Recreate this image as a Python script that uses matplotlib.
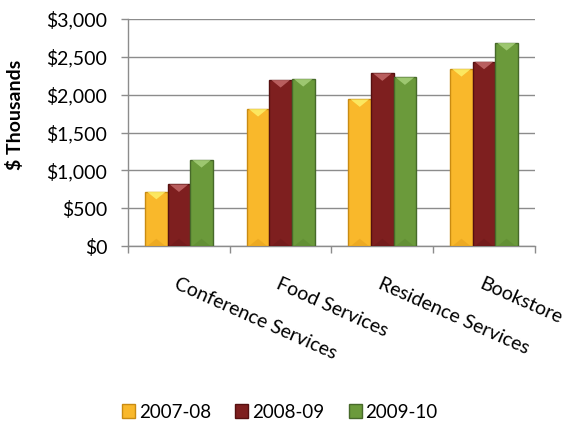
import matplotlib
matplotlib.use('Agg')
import matplotlib.pyplot as plt
from matplotlib.patches import Polygon, Patch
from matplotlib.ticker import FuncFormatter, MultipleLocator, FixedLocator
import numpy as np

#__________________DATA

categories = ['Conference Services', 'Food Services', 'Residence Services', 'Bookstore']
series = ['2007-08', '2008-09', '2009-10']
v_0708 = [718, 1811, 1939, 2339]
v_0809 = [815, 2194, 2282, 2436]
v_0910 = [1137, 2207, 2229, 2683]

colors = ['#F9B82B', '#7E1F1F', '#6B9A3B']
edges = ['#C98B12', '#561010', '#47692A']
tops = ['#FDF06A', '#C46A6A', '#A7D07A']
bottoms = ['#E6A21E', '#6E1A1A', '#5E8A32']

plt.rcParams['font.family'] = ['Lato', 'DejaVu Sans']

fig = plt.figure(figsize=(5.77, 4.23), dpi=100)
ax = fig.add_axes([0.222, 0.418, 0.705, 0.537])

x = np.arange(len(categories))
w = 0.222
ax.set_xlim(-0.5, len(categories) - 0.5)
ax.set_ylim(0, 3000)

# pixel -> data conversion for bevel triangles
ph = fig.get_figheight() * fig.dpi * 0.537
tri_h = 7.5 * 3000 / ph

for k, vals in enumerate([v_0708, v_0809, v_0910]):
    xs = x + (k - 1) * w
    bars = ax.bar(xs, vals, width=w, color=colors[k], edgecolor=edges[k],
                  linewidth=1.0, zorder=3, label=series[k])
    for b in bars:
        x0 = b.get_x(); x1 = x0 + b.get_width(); top = b.get_height()
        xc = x0 + b.get_width() / 2
        ax.add_patch(Polygon([(x0 + .02, top), (x1 - .02, top), (xc, top - tri_h)],
                             closed=True, fc=tops[k], ec='none', alpha=.85, zorder=4))
        ax.add_patch(Polygon([(x0 + .02, 0), (x1 - .02, 0), (xc, tri_h)],
                             closed=True, fc=bottoms[k], ec='none', alpha=.6, zorder=4))

ax.yaxis.set_major_locator(MultipleLocator(500))
ax.yaxis.set_major_formatter(FuncFormatter(lambda v, p: '${:,.0f}'.format(v)))
ax.grid(axis='y', color='#8C8C8C', linewidth=1.0, zorder=0)
ax.set_axisbelow(True)

for s in ['top', 'right']:
    ax.spines[s].set_visible(False)
for s in ['left', 'bottom']:
    ax.spines[s].set_color('#8C8C8C')
    ax.spines[s].set_linewidth(1.0)

ax.xaxis.set_major_locator(FixedLocator(np.arange(-0.5, len(categories), 1.0)))
ax.set_xticklabels([])
ax.tick_params(axis='x', length=5, color='#8C8C8C', width=1)
ax.tick_params(axis='y', length=5, color='#8C8C8C', width=1, labelsize=14, pad=10)

for i, c in enumerate(categories):
    ax.annotate(c, xy=(i, 0), xycoords=('data', 'axes fraction'),
                xytext=(0, -21), textcoords='offset points',
                rotation=-24, rotation_mode='anchor', ha='left', va='top', fontsize=14)

ax.set_ylabel('$ Thousands', fontsize=14, fontweight='bold')
ax.yaxis.set_label_coords(-0.255, 0.58)

handles = [Patch(facecolor=colors[k], edgecolor=edges[k], label=series[k]) for k in range(3)]
fig.legend(handles=handles, loc='center', bbox_to_anchor=(0.485, 0.026), ncol=3,
           frameon=False, fontsize=13.5, handlelength=0.7, handleheight=0.7,
           handletextpad=0.2, columnspacing=1.3)

plt.savefig('out.png', dpi=100)
plt.close()
